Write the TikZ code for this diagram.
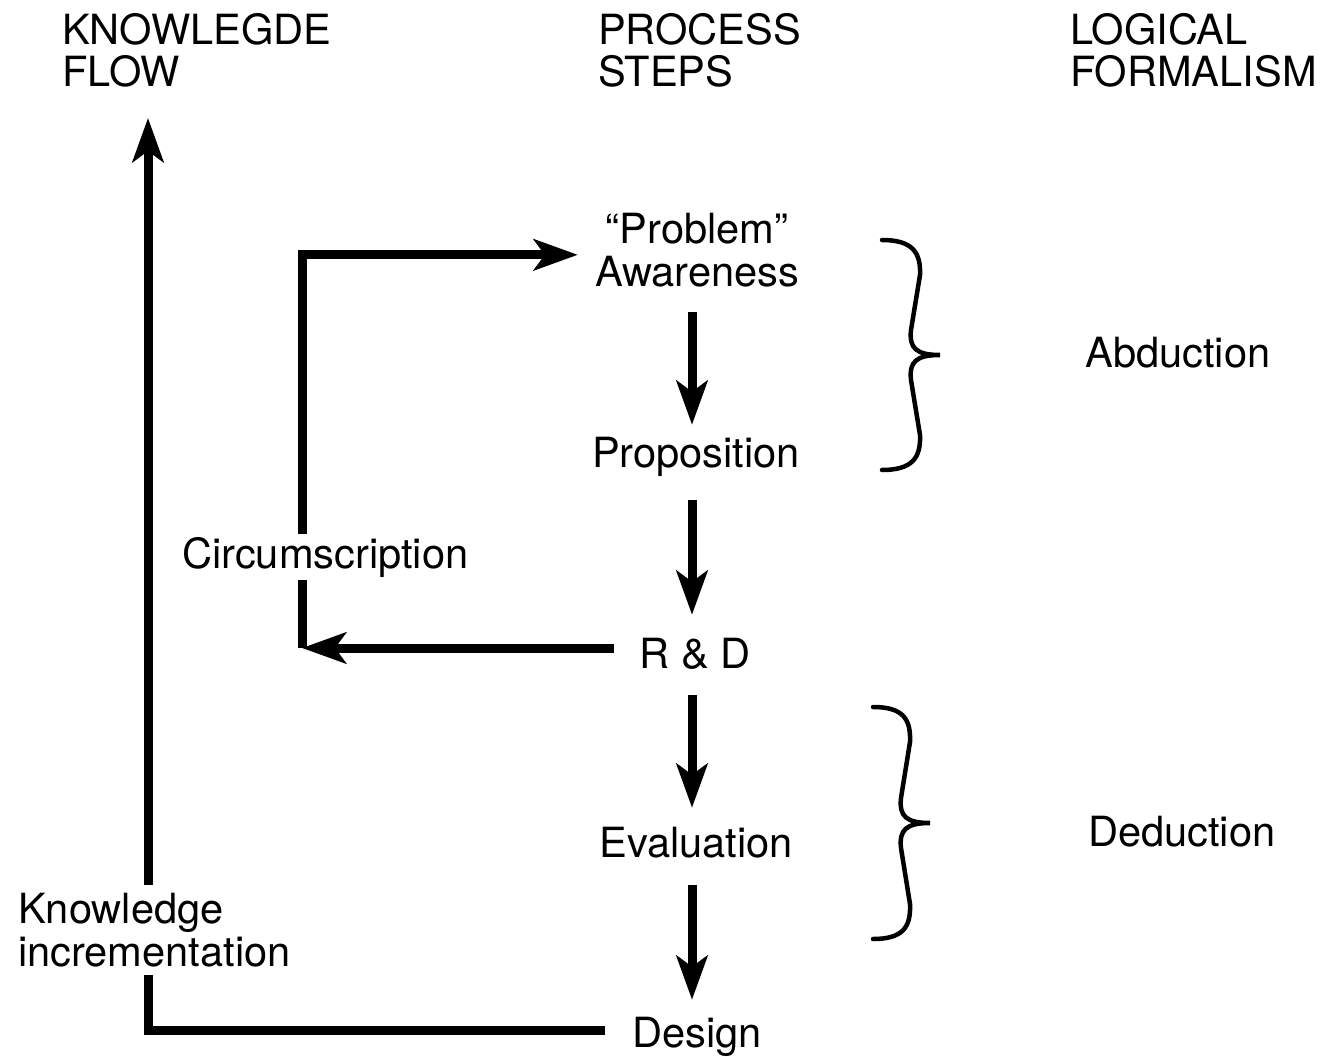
\documentclass[tikz,border=0pt]{standalone}
\usepackage{fontspec}
\setmainfont{TeX Gyre Heros}
\usetikzlibrary{arrows.meta}
\begin{document}
\begin{tikzpicture}[x=1pt,y=-1pt,
  txt/.style={font=\fontsize{41.6}{43}\selectfont, inner sep=0pt},
  stepnode/.style={txt, text height=30pt, text depth=9pt, anchor=base},
  arr/.style={line width=9pt, -{Stealth[length=44pt,width=31pt,inset=11pt]}},
  bracestyle/.style={line width=4.5pt, line cap=round}
]
\useasboundingbox (0,0) rectangle (1323,1057);

% headers (base anchor = baseline of last line)
\node[txt, align=left, anchor=base west] (hkf) at (62,87) {KNOWLEGDE\\FLOW};
\node[txt, align=left, anchor=base west] (hps) at (598,87) {PROCESS\\STEPS};
\node[txt, align=left, anchor=base west] (hlf) at (1070,87) {LOGICAL\\FORMALISM};

% process steps
\node[txt, align=center, anchor=south] (aw) at (697,287) {“Problem”\\Awareness};
\node[stepnode] (prop) at (696,467) {Proposition};
\node[stepnode] (rd) at (695,668) {R \& D};
\node[stepnode] (ev) at (696,857) {Evaluation};
\node[stepnode] (ds) at (697,1047) {Design};

% formalism
\node[txt, anchor=base west] (abd) at (1085,367) {Abduction};
\node[txt, anchor=base west] (ded) at (1088,846) {Deduction};

\coordinate (ax) at (692,0);
\coordinate (kftop) at (148,118);
\coordinate (cc) at (302,648);

% step arrows
\draw[arr, shorten <=25pt, shorten >=12pt] (aw.south -| ax) -- (prop.north -| ax);
\draw[arr, shorten <=24pt, shorten >=23pt] (prop.south -| ax) -- (rd.north -| ax);
\draw[arr, shorten <=18pt, shorten >=19pt] (rd.south -| ax) -- (ev.north -| ax);
\draw[arr, shorten <=19pt, shorten >=17pt] (ev.south -| ax) -- (ds.north -| ax);

% circumscription loop
\draw[arr, shorten <=25pt] ([yshift=9.5pt]rd.west) -- (cc);
\draw[arr, shorten >=17pt] (cc) |- ([yshift=-5pt]aw.west);

% knowledge flow
\draw[arr, shorten <=27pt] ([yshift=6pt]ds.west) -| (kftop);

\node[txt, fill=white, inner ysep=3pt, anchor=base west] (circ) at (182,568) {Circumscription};
\node[txt, fill=white, align=left, inner ysep=8pt, anchor=south west] (ki) at (18,975) {Knowledge\\incrementation};

% braces
\draw[bracestyle] (882,240) .. controls (912,240) and (921,252) .. (920,275)
  -- (911,330) .. controls (909,348) and (916,355) .. (940,355)
  .. controls (916,355) and (909,362) .. (911,380)
  -- (920,435) .. controls (921,458) and (912,470) .. (882,470);
\draw[bracestyle] (873,707) .. controls (903,707) and (911,719) .. (910,742)
  -- (901,798) .. controls (899,816) and (906,823) .. (930,823)
  .. controls (906,823) and (899,830) .. (901,848)
  -- (910,904) .. controls (911,927) and (903,939) .. (873,939);
\end{tikzpicture}
\end{document}
